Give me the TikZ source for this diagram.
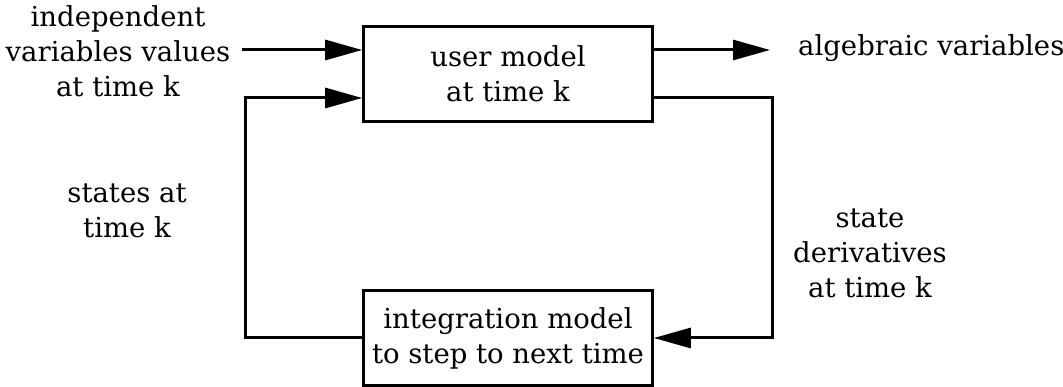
\documentclass[tikz,border=0pt]{standalone}
\usepackage{fontspec}
\setmainfont{DejaVu Serif}
\usetikzlibrary{arrows.meta}
\begin{document}
\begin{tikzpicture}[x=1pt,y=-1pt,
  txt/.style={font=\fontsize{27.5}{35}\selectfont, align=center, inner sep=0pt},
  block/.style={txt, draw, line width=2.6pt, minimum height=95pt, minimum width=289pt},
  wire/.style={line width=3pt},
  arr/.style={wire, -{Triangle[length=37pt,width=20pt]}}]
  \useasboundingbox (0,0) rectangle (1063,387);

  % the two blocks
  \node[block] (umodel) at (508,74) {user model\\at time k};
  \node[block] (imodel) at (508,338) {integration model\\to step to next time};

  % labels
  \node[txt] (lin) at (118,51) {independent\\variables values\\at time k};
  \node[txt, anchor=west] (lalg) at (798,48) {algebraic variables};
  \node[txt] (lst) at (127,211) {states at\\time k};
  \node[txt] (lder) at (870,253) {state\\derivatives\\at time k};

  % free ends and corners of the wires
  \coordinate (in1) at (242,50);
  \coordinate (fbl) at (245,98);
  \coordinate (out1) at (770,50);
  \coordinate (fbr) at (772,98);

  % input to the user model
  \draw[arr] (in1) -- (in1 -| umodel.west);
  % algebraic variables out
  \draw[arr] (out1 -| umodel.east) -- (out1);
  % state derivatives into the integrator
  \draw[arr] (fbr -| umodel.east) -- (fbr) |- (imodel.east);
  % states back into the user model
  \draw[arr] (imodel.west) -| (fbl) -- (fbl -| umodel.west);
\end{tikzpicture}
\end{document}
